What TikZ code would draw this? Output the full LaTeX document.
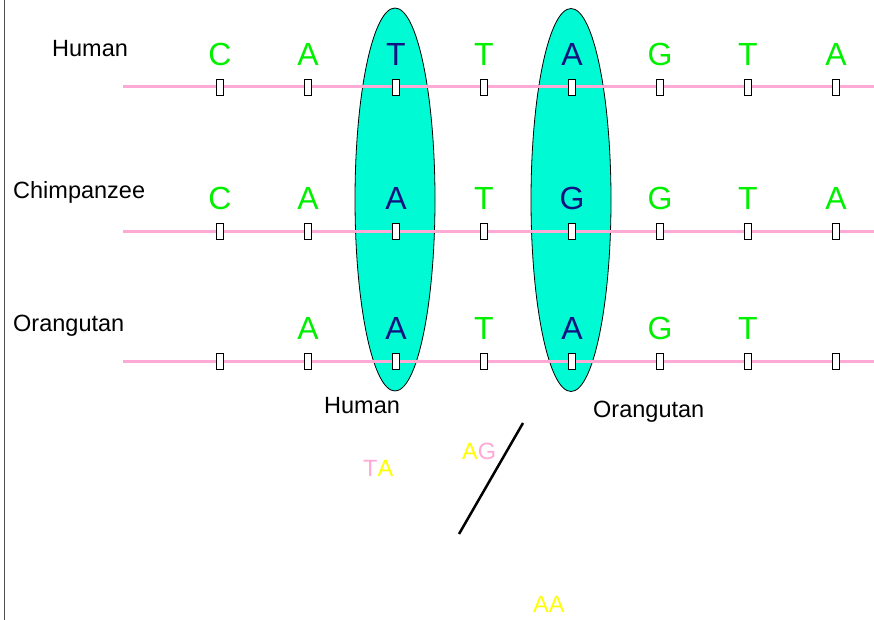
\documentclass[tikz,border=0pt]{standalone}
\usepackage{fontspec}
\setmainfont{Liberation Sans}
\usetikzlibrary{positioning,shapes.geometric}
\definecolor{seqpink}{RGB}{255,170,212}
\definecolor{seqgreen}{RGB}{0,240,0}
\definecolor{seqnavy}{RGB}{18,18,128}
\definecolor{seqcyan}{RGB}{0,250,212}
\definecolor{seqyellow}{RGB}{255,255,0}
\tikzset{
  site/.style={draw,fill=white,line width=0.8pt,minimum width=7pt,minimum height=16pt,inner sep=0pt},
  nuc/.style={font=\fontsize{32}{36}\selectfont,text=seqgreen,inner sep=0pt},
  hit/.style={nuc,text=seqnavy},
  species/.style={font=\fontsize{23.5}{28}\selectfont,anchor=base west,inner sep=0pt},
  strand/.style={seqpink,line width=3pt},
  clade/.style={draw=black,line width=0.8pt,fill=seqcyan,ellipse,inner sep=0pt,minimum width=80pt,minimum height=383pt}
}
\begin{document}
\begin{tikzpicture}[x=1pt,y=-1pt]
\useasboundingbox (0,0) rectangle (874,620);
\draw[line width=1pt,black!70] (4,0) -- (4,620);
% highlighted columns
\node[clade] (colT) at (395,199.5) {};
\node[clade] (colA) at (571,200) {};
% sequence strands
\coordinate (hs) at (123,87);  \coordinate (he) at (874,87);
\coordinate (cs) at (123,231); \coordinate (ce) at (874,231);
\coordinate (os) at (123,361); \coordinate (oe) at (874,361);
\draw[strand] (hs) -- (he);
\draw[strand] (cs) -- (ce);
\draw[strand] (os) -- (oe);
\foreach \r/\y in {h/87,c/231,o/361}
  \foreach \i in {1,...,8}
    \node[site] (\r\i) at ({132+88*\i},\y) {};
% bases
\foreach \i/\b/\s in {1/C/nuc,2/A/nuc,3/T/hit,4/T/nuc,5/A/hit,6/G/nuc,7/T/nuc,8/A/nuc}
  \node[\s,above=12.5pt of h\i] (bh\i) {\b};
\foreach \i/\b/\s in {1/C/nuc,2/A/nuc,3/A/hit,4/T/nuc,5/G/hit,6/G/nuc,7/T/nuc,8/A/nuc}
  \node[\s,above=12.5pt of c\i] (bc\i) {\b};
\foreach \i/\b/\s in {2/A/nuc,3/A/hit,4/T/nuc,5/A/hit,6/G/nuc,7/T/nuc}
  \node[\s,above=12.5pt of o\i] (bo\i) {\b};
% species
\node[species] (lhum) at (52,57) {Human};
\node[species] (lchi) at (13,199) {Chimpanzee};
\node[species] (lora) at (13,331) {Orangutan};
\node[species] (thum) at (324,413) {Human};
\node[species] (tora) at (593,417) {Orangutan};
\node[species] (pta) at (363,476) {\textcolor{seqpink}{T}\textcolor{seqyellow}{A}};
\node[species] (pag) at (462,459) {\textcolor{seqyellow}{A}\textcolor{seqpink}{G}};
\node[species,text=seqyellow] (paa) at (533,612) {AA};
\coordinate (br0) at (523,423);
\coordinate (br1) at (459,534);
\draw[line width=2.5pt] (br0) -- (br1);
\end{tikzpicture}
\end{document}
